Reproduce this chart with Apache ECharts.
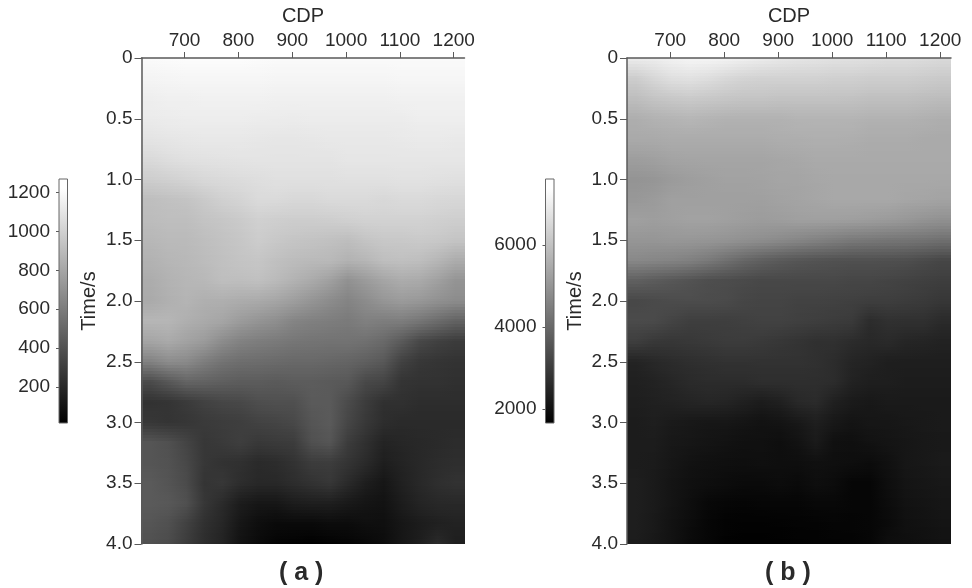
<!DOCTYPE html>
<html><head><meta charset="utf-8">
<style>html,body{margin:0;padding:0;background:#fff}#c{width:972px;height:588px}</style>
<script src="https://cdn.jsdelivr.net/npm/echarts@6/dist/echarts.min.js"></script>
</head><body><div id="c"></div>
<script>
const cdpTicks=[700,800,900,1000,1100,1200];
const timeTicks=[0,0.5,1,1.5,2,2.5,3,3.5,4];
const barTicksA=[200,400,600,800,1000,1200];
const barTicksB=[2000,4000,6000];
const barRangeA=[15,1270];
const barRangeB=[1660,7610];
const colorScaleA=[0,1275];
const colorScaleB=[1650,7650];
const cdpColumns=[636.7,670,703.3,736.7,770,803.3,836.7,870,903.3,936.7,970,1003.3,1036.7,1070,1103.3,1136.7,1170,1203.3];
const timeRows=[0,0.167,0.333,0.5,0.667,0.833,1,1.167,1.333,1.5,1.667,1.833,2,2.167,2.333,2.5,2.667,2.833,3,3.167,3.333,3.5,3.667,3.833,4];
const panelA=[
[1250,1255,1260,1260,1260,1260,1255,1250,1250,1250,1250,1250,1250,1250,1250,1250,1250,1250],
[1220,1225,1230,1230,1230,1230,1230,1225,1225,1225,1225,1225,1225,1225,1230,1230,1230,1230],
[1190,1200,1200,1205,1205,1205,1205,1200,1200,1200,1200,1200,1200,1200,1205,1205,1205,1205],
[1175,1180,1185,1185,1185,1185,1180,1180,1175,1180,1180,1180,1180,1180,1180,1190,1190,1190],
[1140,1150,1155,1160,1160,1160,1155,1150,1150,1155,1160,1160,1160,1160,1165,1170,1170,1165],
[1090,1110,1125,1130,1135,1140,1140,1140,1140,1140,1140,1150,1150,1150,1150,1150,1150,1150],
[1025,1040,1060,1080,1090,1100,1110,1120,1120,1120,1120,1125,1125,1125,1130,1130,1125,1120],
[950,965,975,1010,1040,1060,1090,1090,1080,1080,1090,1090,1090,1080,1090,1090,1080,1075],
[940,950,950,975,990,1010,1040,1030,1025,1025,1030,1040,1050,1050,1050,1050,1040,1030],
[915,930,930,950,970,990,1020,1000,985,975,960,950,980,1000,1000,1010,1000,980],
[890,910,920,940,960,980,990,960,940,930,925,890,910,950,960,950,910,860],
[860,890,910,920,950,950,960,930,890,850,800,725,775,825,860,850,800,740],
[850,880,900,875,875,860,850,825,790,740,700,660,700,750,775,760,725,700],
[910,910,875,850,825,775,740,710,660,640,625,610,640,625,625,590,540,490],
[825,850,810,775,700,650,625,610,590,580,575,575,560,525,450,360,325,300],
[650,700,690,625,575,550,540,530,520,520,510,500,475,440,325,275,260,250],
[375,440,500,490,475,460,460,450,460,460,450,440,360,340,260,250,250,240],
[250,260,290,325,350,360,390,400,400,450,450,375,300,240,240,225,225,225],
[275,260,270,290,300,310,330,340,360,425,450,350,280,225,210,210,210,210],
[425,400,340,275,290,310,280,290,300,400,425,300,240,175,190,200,210,220],
[425,410,360,275,250,240,210,220,250,300,300,260,210,150,175,200,220,230],
[450,420,375,260,275,225,200,200,225,250,275,210,150,110,160,200,230,250],
[450,440,400,275,210,140,110,110,140,150,150,125,100,90,140,180,200,200],
[425,400,325,240,190,110,70,50,50,50,60,60,75,75,110,140,160,170],
[400,375,300,225,175,90,50,20,10,0,10,20,40,60,110,150,210,150]
];
const panelB=[
[7200,7240,7340,7410,7410,7360,7290,7200,7100,7055,7010,6960,6940,6910,6870,6870,6820,6770],
[6470,6700,6910,6960,6870,6730,6630,6585,6585,6585,6585,6540,6540,6490,6490,6490,6440,6400],
[6115,6260,6350,6400,6350,6300,6260,6260,6230,6230,6230,6230,6210,6160,6160,6160,6115,6070],
[5740,5830,5880,5930,5880,5830,5830,5830,5830,5880,5880,5880,5880,5830,5830,5830,5790,5740],
[5645,5645,5690,5690,5690,5690,5690,5690,5740,5740,5760,5760,5740,5690,5690,5690,5645,5645],
[5360,5410,5500,5530,5530,5530,5530,5530,5570,5600,5645,5645,5645,5645,5645,5645,5645,5645],
[5130,5175,5290,5360,5410,5460,5460,5480,5530,5530,5570,5600,5600,5600,5600,5600,5600,5600],
[5220,5290,5410,5410,5410,5410,5410,5410,5460,5500,5550,5600,5600,5600,5600,5550,5530,5480],
[5410,5360,5410,5460,5460,5410,5360,5320,5360,5410,5410,5400,5380,5340,5300,5220,5130,5060],
[5175,5175,5200,5200,5175,5130,5060,4990,4900,4800,4700,4600,4500,4470,4420,4400,4350,4280],
[4860,4800,4750,4660,4500,4280,4050,3880,3760,3650,3600,3560,3520,3520,3520,3480,3390,3300],
[3900,3800,3700,3600,3480,3440,3390,3340,3340,3340,3340,3340,3295,3295,3250,3200,3150,3110],
[3340,3380,3430,3450,3430,3400,3295,3250,3250,3200,3200,3180,3150,3110,3110,3060,3010,2940],
[3410,3390,3250,3110,3110,3110,3150,3200,3200,3150,3110,3060,3010,2680,2780,2780,2780,2640],
[3110,2970,2940,2970,3010,3060,3060,3010,2940,2870,2780,2780,2680,2590,2640,2540,2500,2450],
[2470,2590,2680,2730,2780,2825,2825,2825,2825,2825,2780,2680,2500,2450,2355,2355,2355,2355],
[2400,2450,2540,2640,2680,2680,2680,2730,2730,2730,2730,2680,2450,2355,2355,2310,2310,2310],
[2355,2400,2450,2500,2540,2500,2400,2300,2400,2600,2660,2400,2260,2210,2260,2260,2260,2260],
[2310,2355,2260,2210,2170,2170,2120,2070,2100,2210,2355,2200,2120,2170,2170,2210,2240,2260],
[2310,2310,2210,2170,2120,2070,2030,2030,1980,2070,2260,2030,2000,2070,2120,2170,2210,2240],
[2310,2280,2170,2070,2030,2000,1980,2000,1980,1980,2030,2000,1980,1930,2030,2170,2210,2260],
[2355,2260,2120,2030,1980,1930,1885,1885,1930,1885,1980,1930,1790,1790,1980,2120,2170,2210],
[2355,2260,2120,1980,1840,1790,1770,1790,1790,1790,1840,1840,1790,1790,1930,2070,2120,2170],
[2355,2240,2070,1930,1790,1720,1700,1700,1720,1740,1740,1770,1770,1790,1885,2030,2070,2120],
[2310,2210,2070,1885,1790,1700,1670,1670,1670,1700,1720,1720,1740,1790,1980,2000,2030,2070]
];

const cdpRange=[620,1220];
function gray(v,s){const g=Math.round(Math.max(0,Math.min(1,(v-s[0])/(s[1]-s[0])))*255);return 'rgb('+g+','+g+','+g+')';}
function mix(a,b,t){return a+(b-a)*t;}
function quads(rows){
  const out=[];
  const xs=[cdpRange[0]].concat(cdpColumns,[cdpRange[1]]);
  for(let j=0;j<timeRows.length-1;j++){
    for(let k=0;k<xs.length-1;k++){
      const l=Math.max(0,k-1),r=Math.min(cdpColumns.length-1,k);
      out.push([xs[k],timeRows[j],xs[k+1],timeRows[j+1],rows[j][l],rows[j][r],rows[j+1][l],rows[j+1][r]]);
    }
  }
  return out;
}
function shaded(scale){
  return function(p,api){
    const a=api.coord([api.value(0),api.value(1)]),b=api.coord([api.value(2),api.value(3)]);
    const tl=api.value(4),tr=api.value(5),bl=api.value(6),br=api.value(7);
    const y0=Math.round(a[1]),y1=Math.round(b[1]);
    const children=[];
    for(let y=y0;y<y1;y+=3){
      const e=Math.min(y+3,y1),t=(y+1.5-a[1])/(b[1]-a[1]);
      children.push({type:'rect',shape:{x:Math.floor(a[0]),y:y,width:Math.ceil(b[0])-Math.floor(a[0])+1,height:e-y},
        style:{fill:new echarts.graphic.LinearGradient(a[0],0,b[0],0,[
          {offset:0,color:gray(mix(tl,bl,t),scale)},{offset:1,color:gray(mix(tr,br,t),scale)}],true)},silent:true});
    }
    return {type:'group',children:children};
  };
}
function barItem(scale){
  return function(p,api){
    const a=api.coord([0,api.value(1)]),b=api.coord([1,api.value(0)]);
    return {type:'rect',shape:{x:a[0],y:a[1],width:b[0]-a[0],height:b[1]-a[1]},
      style:{fill:new echarts.graphic.LinearGradient(0,0,0,1,[{offset:0,color:'#fff'},{offset:0.04,color:'#fff'},{offset:1,color:'#000'}]),stroke:'#666',lineWidth:1},silent:true};
  };
}
const txt='#2a2a2a',ln='#5a5a5a',fam='"Liberation Sans",Arial,sans-serif',fs=19,nameFs=20;
const plain=function(v){return String(v);};
const panels=[{left:141.5,width:323,data:panelA,scale:colorScaleA,bl:59,ticks:barTicksA,range:barRangeA},
              {left:627,width:324,data:panelB,scale:colorScaleB,bl:545.5,ticks:barTicksB,range:barRangeB}];
const grid=[],xAxis=[],yAxis=[],series=[];
panels.forEach(function(P,n){
  const gi=grid.length;
  grid.push({left:P.left,top:58,width:P.width,height:486});
  xAxis.push({type:'value',gridIndex:gi,position:'top',min:cdpRange[0],max:cdpRange[1],name:'CDP',nameLocation:'middle',nameGap:32,
    nameTextStyle:{color:txt,fontSize:nameFs,fontFamily:fam},z:5,
    axisLine:{show:true,onZero:false,lineStyle:{color:ln,width:1.5}},splitLine:{show:false},
    axisTick:{show:true,length:6,lineStyle:{color:ln},customValues:cdpTicks},
    axisLabel:{color:txt,fontSize:fs,fontFamily:fam,margin:8,customValues:cdpTicks,formatter:plain}});
  yAxis.push({type:'value',gridIndex:gi,inverse:true,min:0,max:4,name:'Time/s',nameLocation:'middle',nameGap:42,
    nameTextStyle:{color:txt,fontSize:nameFs,fontFamily:fam},z:5,
    axisLine:{show:true,onZero:false,lineStyle:{color:ln,width:1.5}},splitLine:{show:false},
    axisTick:{show:true,length:7,lineStyle:{color:ln},customValues:timeTicks},
    axisLabel:{color:txt,fontSize:fs,fontFamily:fam,margin:9,padding:[3,0,0,0],customValues:timeTicks,formatter:function(v){return v===0?'0':v.toFixed(1);}}});
  series.push({type:'custom',xAxisIndex:gi,yAxisIndex:gi,coordinateSystem:'cartesian2d',clip:true,silent:true,animation:false,
    progressive:0,renderItem:shaded(P.scale),data:quads(P.data),encode:{x:[0,2],y:[1,3]}});
  const bi=grid.length;
  grid.push({left:P.bl,top:179,width:8.5,height:244});
  xAxis.push({type:'value',gridIndex:bi,min:0,max:1,show:false});
  yAxis.push({type:'value',gridIndex:bi,min:P.range[0],max:P.range[1],
    axisLine:{show:false},splitLine:{show:false},
    axisTick:{show:true,length:3,lineStyle:{color:ln},customValues:P.ticks},
    axisLabel:{color:txt,fontSize:fs,fontFamily:fam,margin:9,padding:[3,0,0,0],customValues:P.ticks,formatter:plain}});
  series.push({type:'custom',xAxisIndex:bi,yAxisIndex:bi,coordinateSystem:'cartesian2d',clip:false,silent:true,animation:false,
    renderItem:barItem(P.scale),data:[[P.range[0],P.range[1]]],encode:{y:[0,1]}});
});
const chart=echarts.init(document.getElementById('c'),null,{renderer:'canvas'});
chart.setOption({backgroundColor:'#fff',animation:false,tooltip:{show:false},
  title:[
    {text:'( a )',left:274,top:556,textStyle:{fontSize:25,fontWeight:'bold',color:txt,fontFamily:fam}},
    {text:'( b )',left:760,top:556,textStyle:{fontSize:25,fontWeight:'bold',color:txt,fontFamily:fam}}
  ],
  grid:grid,xAxis:xAxis,yAxis:yAxis,series:series});
</script></body></html>
